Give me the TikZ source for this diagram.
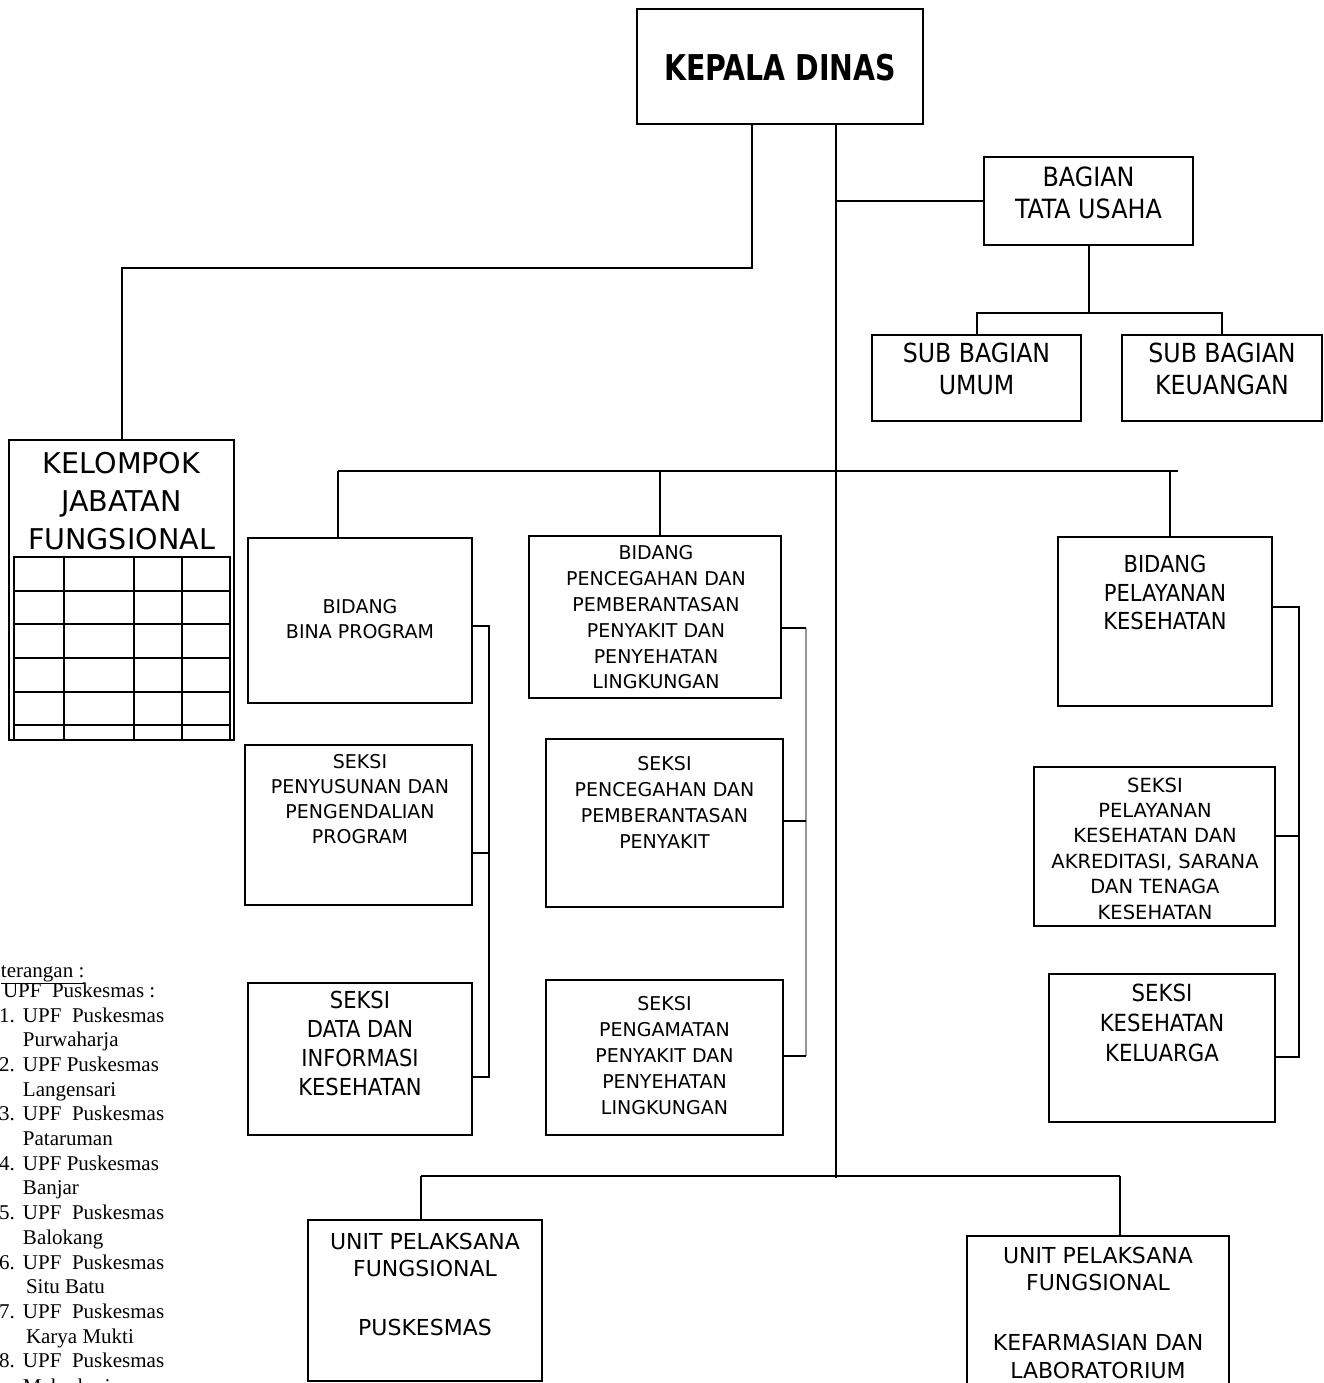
\documentclass[tikz,border=0pt]{standalone}
\usepackage{fontspec}
\setmainfont{DejaVu Sans}
\newfontfamily\condf{DejaVu Sans Condensed}
\newfontfamily\kdfont[FakeStretch=0.8]{DejaVu Sans}
\newfontfamily\serf{Liberation Serif}
\definecolor{grayline}{RGB}{150,150,150}
\begin{document}
\begin{tikzpicture}[x=1pt,y=-1pt,line width=2pt,
  box/.style={draw,line width=2pt,inner sep=0pt,outer sep=0pt},
  txt/.style={inner sep=0pt,align=center},
  leg/.style={inner sep=0pt,anchor=base west,font=\serf\fontsize{21}{24}\selectfont}]
\useasboundingbox (0,0) rectangle (1324,1383);
\clip (0,0) rectangle (1324,1383);
% ---- boxes
\node[box,minimum width=286pt,minimum height=115pt] (kepala) at (780,66.5) {};
\node[box,minimum width=209pt,minimum height=88pt] (tu) at (1088.5,201) {};
\node[box,minimum width=209pt,minimum height=86pt] (umum) at (976.5,378) {};
\node[box,minimum width=200pt,minimum height=86pt] (keu) at (1222,378) {};
\node[box,minimum width=225pt,minimum height=300pt] (kjf) at (121.5,590) {};
\node[box,minimum width=224pt,minimum height=165pt] (bina) at (360,620.5) {};
\node[box,minimum width=252pt,minimum height=162pt] (pcg) at (655,617) {};
\node[box,minimum width=214pt,minimum height=169pt] (pel) at (1165,621.5) {};
\node[box,minimum width=227pt,minimum height=160pt] (penyus) at (358.5,825) {};
\node[box,minimum width=224pt,minimum height=152pt] (data) at (360,1059) {};
\node[box,minimum width=237pt,minimum height=168pt] (spp) at (664.5,823) {};
\node[box,minimum width=237pt,minimum height=155pt] (spl) at (664.5,1057.5) {};
\node[box,minimum width=241pt,minimum height=159pt] (spk) at (1154.5,846.5) {};
\node[box,minimum width=226pt,minimum height=148pt] (skk) at (1162,1048) {};
\node[box,minimum width=234pt,minimum height=161pt] (upf) at (425,1300.5) {};
\node[box,minimum width=262pt,minimum height=164pt] (upk) at (1098,1318) {};
% ---- texts
\node[txt,font=\kdfont\bfseries\fontsize{35.5}{40}\selectfont] (kepalat) at (780,68) {KEPALA DINAS};
\node[txt,font=\condf\fontsize{26.5}{32}\selectfont] (tut) at (1088.5,193) {BAGIAN\\TATA USAHA};
\node[txt,font=\condf\fontsize{26.3}{32}\selectfont] (umumt) at (976.5,369) {SUB BAGIAN\\UMUM};
\node[txt,font=\condf\fontsize{26.3}{32}\selectfont] (keut) at (1222,369) {SUB BAGIAN\\KEUANGAN};
\node[txt,font=\fontsize{28.6}{38}\selectfont] (kjft) at (121.5,501) {KELOMPOK\\JABATAN\\FUNGSIONAL};
\node[txt,font=\fontsize{19}{25}\selectfont] (binat) at (360,619.5) {BIDANG\\BINA PROGRAM};
\node[txt,font=\fontsize{19}{25.8}\selectfont] (pcgt) at (656,617.5) {BIDANG\\PENCEGAHAN DAN\\PEMBERANTASAN\\PENYAKIT DAN\\PENYEHATAN\\LINGKUNGAN};
\node[txt,font=\condf\fontsize{23.4}{28.5}\selectfont] (pelt) at (1165,592.5) {BIDANG\\PELAYANAN\\KESEHATAN};
\node[txt,font=\fontsize{19}{25}\selectfont] (penyust) at (360,799.5) {SEKSI\\PENYUSUNAN DAN\\PENGENDALIAN\\PROGRAM};
\node[txt,font=\condf\fontsize{23.4}{29}\selectfont] (datat) at (360,1043.5) {SEKSI\\DATA DAN\\INFORMASI\\KESEHATAN};
\node[txt,font=\fontsize{19}{26}\selectfont] (sppt) at (664.5,802) {SEKSI\\PENCEGAHAN DAN\\PEMBERANTASAN\\PENYAKIT};
\node[txt,font=\fontsize{19}{26}\selectfont] (splt) at (664.5,1056) {SEKSI\\PENGAMATAN\\PENYAKIT DAN\\PENYEHATAN\\LINGKUNGAN};
\node[txt,font=\fontsize{19.5}{25.4}\selectfont] (spkt) at (1155,848.5) {SEKSI\\PELAYANAN\\KESEHATAN DAN\\AKREDITASI, SARANA\\DAN TENAGA\\KESEHATAN};
\node[txt,font=\condf\fontsize{23.6}{30}\selectfont] (skkt) at (1162,1023) {SEKSI\\KESEHATAN\\KELUARGA};
\node[txt,font=\fontsize{22}{27}\selectfont] (upft) at (425,1284.5) {UNIT PELAKSANA\\FUNGSIONAL\\[32pt]PUSKESMAS};
\node[txt,font=\fontsize{22}{27.5}\selectfont] (upkt) at (1098,1312.5) {UNIT PELAKSANA\\FUNGSIONAL\\[32.5pt]KEFARMASIAN DAN\\LABORATORIUM};
% ---- table in kelompok jabatan fungsional
\draw (14,557) rectangle (230,740);
\foreach \yy in {591,624,658,692,725} \draw (14,\yy) -- (230,\yy);
\foreach \xx in {64,134,182} \draw (\xx,557) -- (\xx,740);
% ---- connector coordinates
\coordinate (j1) at (752,268);
\coordinate (sp) at (836,1178);
\coordinate (tb) at (1090,313);
\coordinate (c1) at (338,471);
\coordinate (c2) at (660,471);
\coordinate (c3) at (1170,471);
\coordinate (c4) at (1178,471);
\coordinate (bvt) at (489,626);
\coordinate (bvm) at (489,853);
\coordinate (bvb) at (489,1077);
\coordinate (g1) at (806,628);
\coordinate (g2) at (806,821);
\coordinate (g3) at (806,1056);
\coordinate (p1) at (1299,607);
\coordinate (p2) at (1299,836);
\coordinate (p3) at (1299,1057);
\coordinate (u1) at (421,1176);
\coordinate (u2) at (1120,1176);
% ---- connectors
\draw (j1 |- kepala.south) -- (j1) -| (kjf.north);
\draw[line width=1.6pt] (sp |- kepala.south) -- (sp);
\draw (sp |- tu.west) -- (tu.west);
\draw (tu.south) -- (tu.south |- tb);
\draw (umum.north) |- (tb) -| (keu.north);
\draw (c1) -- (c4);
\draw (c1) -- (c1 |- bina.north);
\draw (c2) -- (c2 |- pcg.north);
\draw (c3) -- (c3 |- pel.north);
\draw (bina.east |- bvt) -- (bvt) -- (bvb) -- (data.east |- bvb);
\draw (penyus.east |- bvm) -- (bvm);
\draw[grayline,line width=1.5pt] (g1) -- (g3);
\draw (pcg.east |- g1) -- (g1);
\draw (spp.east |- g2) -- (g2);
\draw (spl.east |- g3) -- (g3);
\draw (pel.east |- p1) -- (p1) -- (p3) -- (skk.east |- p3);
\draw (spk.east |- p2) -- (p2);
\draw (u1) -- (u2);
\draw (u1) -- (u1 |- upf.north);
\draw (u2) -- (u2 |- upk.north);
% ---- legend
\node[leg] (lg0) at (0,977) {\underline{terangan :}};
\node[leg] (lg1) at (2,997) {UPF\ \ Puskesmas :};
\node[leg] (n1) at (-2,1022) {1.};
\node[leg] (t1) at (22,1022) {UPF\ \ Puskesmas};
\node[leg] (s1) at (22,1046.7) {Purwaharja};
\node[leg] (n2) at (-2,1071.4) {2.};
\node[leg] (t2) at (22,1071.4) {UPF Puskesmas};
\node[leg] (s2) at (22,1096.1) {Langensari};
\node[leg] (n3) at (-2,1120.8) {3.};
\node[leg] (t3) at (22,1120.8) {UPF\ \ Puskesmas};
\node[leg] (s3) at (22,1145.5) {Pataruman};
\node[leg] (n4) at (-2,1170.2) {4.};
\node[leg] (t4) at (22,1170.2) {UPF Puskesmas};
\node[leg] (s4) at (22,1194.9) {Banjar};
\node[leg] (n5) at (-2,1219.6) {5.};
\node[leg] (t5) at (22,1219.6) {UPF\ \ Puskesmas};
\node[leg] (s5) at (22,1244.3) {Balokang};
\node[leg] (n6) at (-2,1269) {6.};
\node[leg] (t6) at (22,1269) {UPF\ \ Puskesmas};
\node[leg] (s6) at (25,1293.7) {Situ Batu};
\node[leg] (n7) at (-2,1318.4) {7.};
\node[leg] (t7) at (22,1318.4) {UPF\ \ Puskesmas};
\node[leg] (s7) at (25,1343.1) {Karya Mukti};
\node[leg] (n8) at (-2,1367.8) {8.};
\node[leg] (t8) at (22,1367.8) {UPF\ \ Puskesmas};
\node[leg] (s8) at (22,1393) {Mekarharja};
\end{tikzpicture}
\end{document}
